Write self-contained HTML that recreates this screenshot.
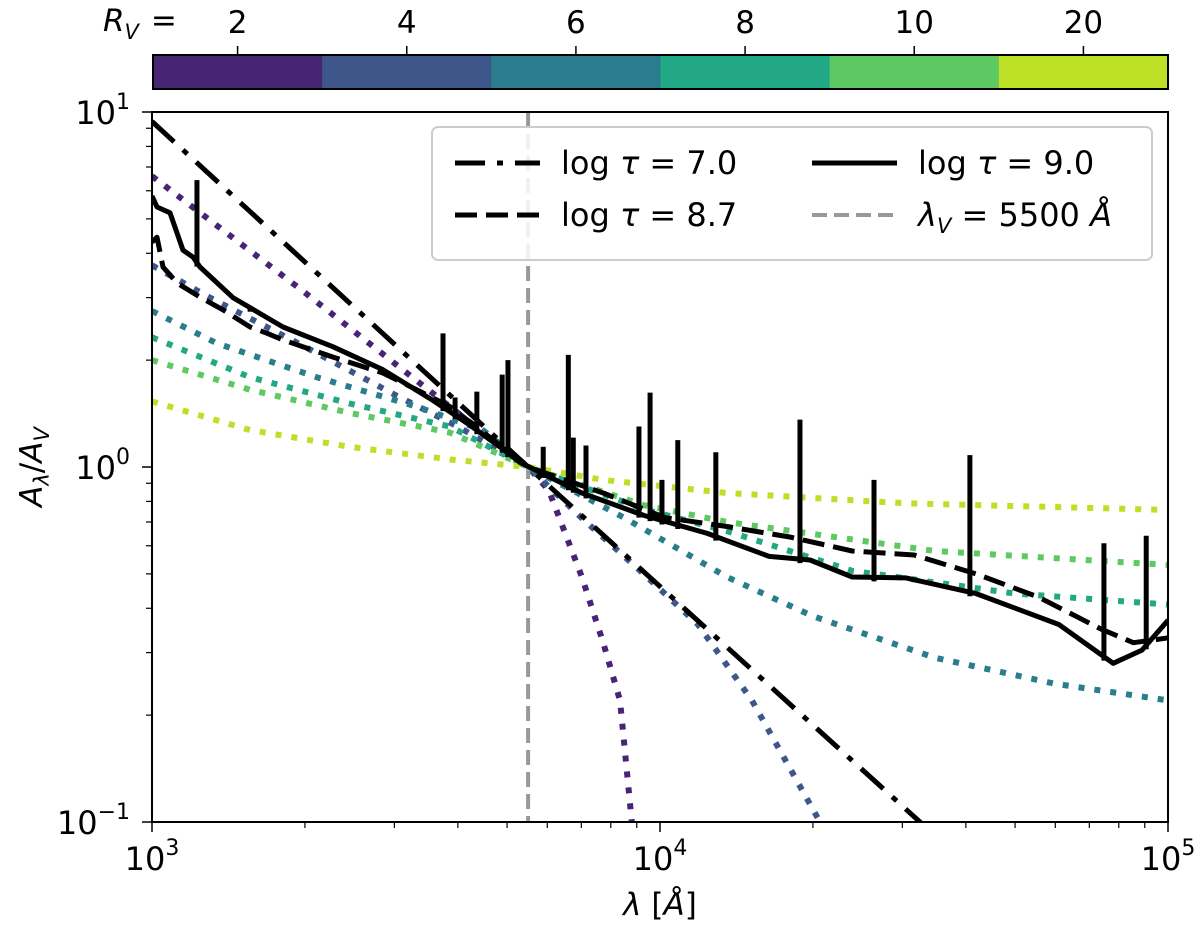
<!DOCTYPE html>
<html><head><meta charset="utf-8"><style>
html,body{margin:0;padding:0;background:#fff;}
svg{display:block;font-family:"DejaVu Sans","Liberation Sans",sans-serif;}
</style></head><body>
<svg id="chart" width="1200" height="929" viewBox="0 0 1200 929">
<defs><clipPath id="plotclip"><rect x="152" y="112" width="1016" height="710"/></clipPath></defs>
<g id="colorbar"></g>
<g id="plot" clip-path="url(#plotclip)"></g>
<g id="axes"></g>
<g id="legend"></g>
</svg>
<script>
const rvLabels = ["2","4","6","8","10","20"];
const rvColors = ["#482475","#3d578a","#2a7d8c","#22a884","#5ec962","#bddf26"];
const dotLam = [
 [1000,2000,3000,4000,5500,6040,7020,7730,8340,8800,9200],
 [1000,1300,2000,3000,4000,5500,7000,9140,11880,15170,20650,22000],
 [1000,1343,2110,3320,4480,5500,8490,13550,20000,34800,60000,100000],
 [1000,1560,2450,3860,5500,9310,13550,23900,50000,100000],
 [1000,1560,2450,3860,5500,9310,13550,34800,100000],
 [1000,1560,2450,3860,5500,7730,13550,30500,100000]
];
const dotVal = [
 [6.6,3.1,1.96,1.42,1.0,0.86,0.49,0.32,0.22,0.1,0.08],
 [3.7,3.0,2.18,1.6,1.3,1.0,0.72,0.51,0.36,0.22,0.1,0.09],
 [2.75,2.23,1.79,1.48,1.27,1.0,0.72,0.49,0.38,0.29,0.245,0.22],
 [2.32,1.79,1.51,1.30,1.0,0.76,0.66,0.51,0.44,0.41],
 [2.0,1.65,1.42,1.25,1.0,0.78,0.70,0.58,0.53],
 [1.53,1.27,1.14,1.05,1.0,0.92,0.845,0.79,0.757]
];
const tau7Lam = [1000,5500,32500,40000];
const tau7Val = [9.4,1.0,0.1,0.076];
const tau87Lam = [1000,1023,1051,1120,1243,1380,1560,1685,1811,2272,2848,3320,3860,5500,7730,10230,13550,18000,23900,31640,41900,55600,73700,85500,100000];
const tau87Val = [4.3,4.44,3.66,3.3,3.01,2.77,2.48,2.38,2.28,2.04,1.84,1.65,1.48,1.0,0.845,0.72,0.68,0.635,0.58,0.565,0.50,0.43,0.35,0.32,0.33];
const tau9Lam = [1000,1023,1085,1151,1205,1243,1443,1811,2272,2848,3572,4166,4838,5300,7020,9310,12390,16400,19740,23900,30500,41900,61000,78000,88900,100000];
const tau9Val = [5.8,5.4,5.2,4.08,3.9,3.66,3.0,2.48,2.18,1.88,1.54,1.33,1.14,1.03,0.845,0.73,0.65,0.56,0.547,0.49,0.487,0.44,0.36,0.28,0.305,0.37];
const spikeLam = [1226,1560,3740,3950,4360,4890,5020,5890,6600,6750,7150,9090,9560,10090,10840,12880,18860,26380,40740,74800,90600];
const spikeVal = [6.43,2.82,2.38,1.57,1.63,1.82,2.0,1.14,2.07,1.21,1.15,1.30,1.62,0.92,1.19,1.10,1.36,0.92,1.08,0.61,0.64];
const lamV = 5500;

const NS="http://www.w3.org/2000/svg";
const X = l => 152 + 508*(Math.log10(l)-3);
const Y = v => 467 - 355*Math.log10(v);
function mk(tag, attrs, parent){const e=document.createElementNS(NS,tag);for(const k in attrs)e.setAttribute(k,attrs[k]);parent.appendChild(e);return e;}
const cb=document.getElementById('colorbar'), plot=document.getElementById('plot'), axes=document.getElementById('axes'), leg=document.getElementById('legend');

// colorbar
const segW=1015/rvColors.length;
rvColors.forEach((c,i)=>{
 const r=mk('rect',{x:153+i*segW,y:55,width:segW+0.5,height:34,fill:c},cb);
 
 
 const tx=153+(i+0.5)*segW;
 mk('line',{x1:tx,y1:55,x2:tx,y2:46,stroke:'#000','stroke-width':1.5},cb);
 const t=mk('text',{x:tx,y:33,'font-size':31,'text-anchor':'middle'},cb);
 t.textContent=rvLabels[i];
 
 
});
mk('rect',{x:153,y:55,width:1015,height:34,fill:'none',stroke:'#000','stroke-width':2},cb);
const rvt=mk('text',{x:103,y:31,'font-size':31},cb);
rvt.innerHTML='<tspan font-style="italic">R</tspan><tspan font-style="italic" font-size="21" dy="8">V</tspan><tspan dy="-8" dx="12">=</tspan>';



function path(lams,vals){return lams.map((l,i)=>(i?'L':'M')+X(l).toFixed(1)+','+Y(vals[i]).toFixed(1)).join(' ');}

dotLam.forEach((ls,i)=>{
 const p=mk('path',{d:path(ls,dotVal[i]),fill:'none',stroke:rvColors[i],'stroke-width':6,'stroke-dasharray':'6 10','stroke-linejoin':'round'},plot);
 
 
});
const vl=mk('line',{x1:X(lamV),y1:112,x2:X(lamV),y2:822,stroke:'#999','stroke-width':4,'stroke-dasharray':'15 7'},plot);


const p7=mk('path',{d:path(tau7Lam,tau7Val),fill:'none',stroke:'#000','stroke-width':5,'stroke-dasharray':'30 12 6 12'},plot);


const p87=mk('path',{d:path(tau87Lam,tau87Val),fill:'none',stroke:'#000','stroke-width':5,'stroke-dasharray':'22 9','stroke-linejoin':'round'},plot);


const p9=mk('path',{d:path(tau9Lam,tau9Val),fill:'none',stroke:'#000','stroke-width':5,'stroke-linejoin':'round'},plot);


function base(l){const lg=Math.log10(l);for(let i=0;i<tau9Lam.length-1;i++){const a=Math.log10(tau9Lam[i]),b=Math.log10(tau9Lam[i+1]);if(lg>=a&&lg<=b){const t=(lg-a)/(b-a);return Math.pow(10,Math.log10(tau9Val[i])*(1-t)+Math.log10(tau9Val[i+1])*t);}}return 1;}
spikeLam.forEach((l,i)=>{
 const s=mk('line',{x1:X(l),x2:X(l),y1:Y(base(l))+4,y2:Y(spikeVal[i]),stroke:'#000','stroke-width':5},plot);
 
 
});

mk('rect',{x:152,y:112,width:1016,height:710,fill:'none',stroke:'#000','stroke-width':2},axes);
[-1,0,1].forEach(e=>{
 const y=Y(Math.pow(10,e));
 mk('line',{x1:152,x2:142,y1:y,y2:y,stroke:'#000','stroke-width':1.5},axes);
 const t=mk('text',{x:130,y:y+12,'font-size':32,'text-anchor':'end'},axes);
 t.innerHTML='10<tspan font-size="22" dy="-15">'+(e<0?'−1':e)+'</tspan>';
 
 
 if(e<1)for(let m=2;m<10;m++){const yy=Y(m*Math.pow(10,e));mk('line',{x1:152,x2:146,y1:yy,y2:yy,stroke:'#000','stroke-width':1.2},axes);}
});
[3,4,5].forEach(e=>{
 const x=X(Math.pow(10,e));
 mk('line',{x1:x,x2:x,y1:822,y2:832,stroke:'#000','stroke-width':1.5},axes);
 const t=mk('text',{x:x,y:870,'font-size':32,'text-anchor':'middle'},axes);
 t.innerHTML='10<tspan font-size="22" dy="-15">'+e+'</tspan>';
 
 
 if(e<5)for(let m=2;m<10;m++){const xx=X(m*Math.pow(10,e));mk('line',{x1:xx,x2:xx,y1:822,y2:828,stroke:'#000','stroke-width':1.2},axes);}
});
const xl=mk('text',{x:660,y:915,'font-size':31,'text-anchor':'middle'},axes);
xl.innerHTML='<tspan font-style="italic">λ</tspan> [<tspan font-style="italic">Å</tspan>]';


const yl=mk('text',{x:0,y:0,'font-size':31,'text-anchor':'middle',transform:'translate(42,467) rotate(-90)'},axes);
yl.innerHTML='<tspan font-style="italic">A</tspan><tspan font-style="italic" font-size="21" dy="7">λ</tspan><tspan dy="-7">/</tspan><tspan font-style="italic">A</tspan><tspan font-style="italic" font-size="21" dy="7">V</tspan>';



mk('rect',{x:432,y:127,width:720,height:133,rx:6,fill:'rgba(255,255,255,0.85)',stroke:'#ccc','stroke-width':2},leg);
const entries=[
 {x:455,y:163,dash:'30 12 6 12',col:'#000',label:'log <tspan font-style="italic">τ</tspan> = 7.0',n:'legend-entry-tau-7'},
 {x:455,y:215,dash:'22 9',col:'#000',label:'log <tspan font-style="italic">τ</tspan> = 8.7',n:'legend-entry-tau-8.7'},
 {x:812,y:163,dash:'none',col:'#000',label:'log <tspan font-style="italic">τ</tspan> = 9.0',n:'legend-entry-tau-9'},
 {x:812,y:215,dash:'15 7',col:'#999',label:'<tspan font-style="italic">λ</tspan><tspan font-style="italic" font-size="21" dy="7">V</tspan><tspan dy="-7"> = 5500 </tspan><tspan font-style="italic">Å</tspan>',n:'legend-entry-lambda-v'}
];
entries.forEach(en=>{
 const g=mk('g',{},leg);
 
 
 mk('line',{x1:en.x,x2:en.x+85,y1:en.y,y2:en.y,stroke:en.col,'stroke-width':en.col==='#999'?4:5,'stroke-dasharray':en.dash},g);
 const t=mk('text',{x:en.x+106,y:en.y+11,'font-size':32},g);
 t.innerHTML=en.label;
});
</script>
</body></html>
